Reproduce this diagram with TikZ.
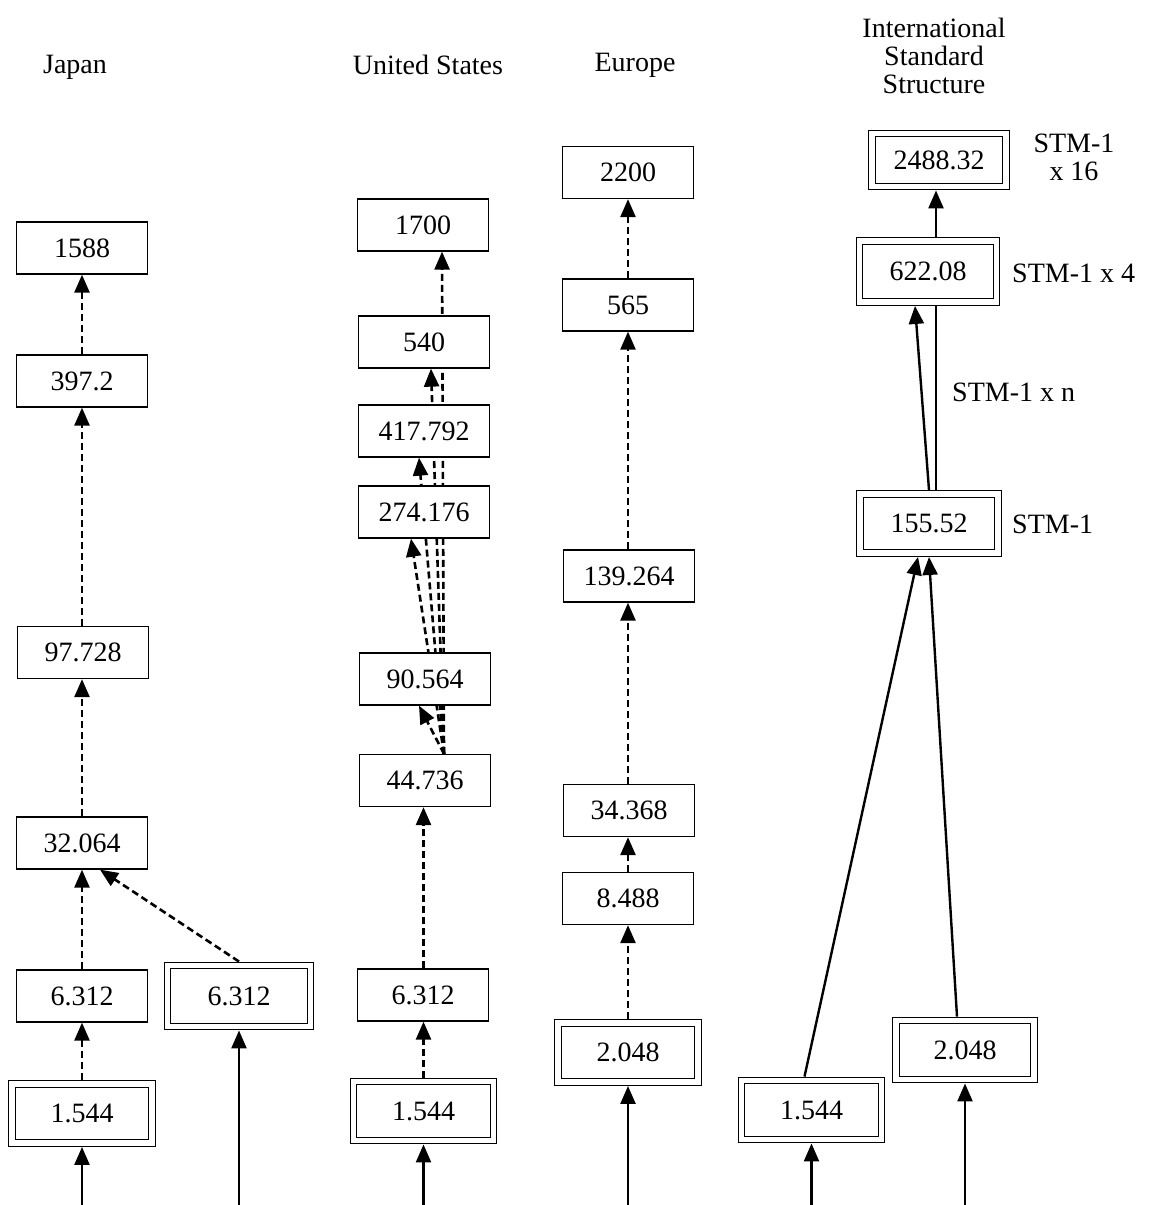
\documentclass[tikz,border=0pt]{standalone}
\usepackage{fontspec}
\setmainfont{Liberation Serif}
\usetikzlibrary{arrows.meta,calc,backgrounds}
\begin{document}
\begin{tikzpicture}[x=1pt,y=-1pt,
  font=\fontsize{28}{28}\selectfont,
  box/.style={draw, line width=1.3pt, fill=white, inner sep=0pt,
    minimum width=131pt, minimum height=52pt},
  dbox/.style={draw, double, double distance=5.5pt, line width=1.2pt,
    fill=white, inner sep=0pt, outer sep=3.95pt,
    minimum width=140pt, minimum height=59pt},
  link/.style={line width=2.4pt, -{Triangle[length=18pt,width=15pt]}},
  dlink/.style={link, line width=2.6pt, dash pattern=on 7pt off 4pt},
  lab/.style={anchor=west, inner sep=0pt, align=center}
]
\useasboundingbox (0,0) rectangle (1149,1205);

% column headings
\node (hJ) at (75,67) {Japan};
\node (hU) at (428,65) {United States};
\node (hE) at (635,65) {Europe};
\node[align=center, inner sep=0pt] (hI) at (934,56) {International\\Standard\\Structure};

% Japan
\node[box]  (j1588) at (82,248)    {1588};
\node[box]  (j397)  at (82,381)    {397.2};
\node[box]  (j97)   at (83,652.5)  {97.728};
\node[box]  (j32)   at (82,843)    {32.064};
\node[box]  (j6)    at (82,996)    {6.312};
\node[dbox, minimum width=143pt, minimum height=61pt] (jd6) at (239,996) {6.312};
\node[dbox] (j1544) at (82,1113.5) {1.544};

% United States
\node[box]  (u1700) at (423,225)   {1700};
\node[box]  (u540)  at (424,342)   {540};
\node[box]  (u417)  at (424,431)   {417.792};
\node[box]  (u274)  at (424,512)   {274.176};
\node[box]  (u90)   at (425,679)   {90.564};
\node[box]  (u44)   at (425,780.5) {44.736};
\node[box]  (u6)    at (423,995)   {6.312};
\node[dbox] (u1544) at (423.5,1111) {1.544};

% Europe
\node[box]  (e2200) at (628,172.5) {2200};
\node[box]  (e565)  at (628,305)   {565};
\node[box]  (e139)  at (629,576)   {139.264};
\node[box]  (e34)   at (629,810.5) {34.368};
\node[box]  (e8)    at (628,898.5) {8.488};
\node[dbox] (e2048) at (628,1052.5) {2.048};

% International standard structure
\node[dbox, minimum width=134pt, minimum height=53pt] (i2488) at (939,160) {2488.32};
\node[dbox, minimum width=137pt, minimum height=61pt] (i622) at (928,271.5) {622.08};
\node[dbox, minimum width=138pt] (i155) at (929,523.5) {155.52};
\node[dbox] (i1544) at (811.5,1110) {1.544};
\node[dbox, minimum width=138pt] (i2048) at (965,1050) {2.048};

\node[align=center, inner sep=0pt] (l16) at (1074,157) {STM-1\\x 16};
\node[lab] (l4) at (1012,273) {STM-1 x 4};
\node[lab] (ln) at (952,392) {STM-1 x n};
\node[lab] (l1) at (1012,524) {STM-1};

% input lines entering from below the lower edge
\coordinate (base) at (0,1205);
\coordinate (jin1) at (j1544.south |- base);
\coordinate (jin2) at (jd6.south |- base);
\coordinate (uin)  at (u1544.south |- base);
\coordinate (ein)  at (e2048.south |- base);
\coordinate (iin1) at (i1544.south |- base);
\coordinate (iin2) at (i2048.south |- base);

\begin{scope}[on background layer]
  % Japan
  \draw[link]  (jin1) -- (j1544.south);
  \draw[link]  (jin2) -- (jd6.south);
  \draw[dlink] (j1544.north) -- (j6.south);
  \draw[dlink] (j6.north) -- (j32.south);
  \draw[dlink] (jd6.north) -- ($(j32.south)+(18,0)$);
  \draw[dlink] (j32.north) -- (j97.south -| j32.north);
  \draw[dlink] (j97.north -| j32.north) -- (j397.south);
  \draw[dlink] (j397.north) -- (j1588.south);

  % United States
  \draw[link]  (uin) -- (u1544.south);
  \draw[dlink] (u1544.north) -- (u6.south -| u1544.north);
  \draw[dlink] (u6.north -| u1544.north) -- (u44.south -| u1544.north);
  \coordinate (ufan) at ($(u44.north)+(19,0)$);
  \draw[dlink] (ufan) -- ($(u90.south)+(-6,0)$);
  \draw[dlink] (ufan) -- ($(u274.south)+(-13,0)$);
  \draw[dlink] (ufan) -- ($(u417.south)+(-5,0)$);
  \draw[dlink] (ufan) -- ($(u540.south)+(7,0)$);
  \draw[dlink] (ufan) -- ($(u1700.south)+(19,0)$);

  % Europe
  \draw[link]  (ein) -- (e2048.south);
  \draw[dlink] (e2048.north) -- (e8.south);
  \draw[dlink] (e8.north) -- (e34.south -| e8.north);
  \draw[dlink] (e34.north -| e8.north) -- (e139.south -| e8.north);
  \draw[dlink] (e139.north -| e8.north) -- (e565.south);
  \draw[dlink] (e565.north) -- (e2200.south);

  % International
  \draw[link] (iin1) -- (i1544.south);
  \draw[link] (iin2) -- (i2048.south);
  \draw[link] ($(i1544.north)+(-7,0)$) -- ($(i155.south)+(-11,0)$);
  \draw[link] ($(i2048.north)+(-8,0)$) -- (i155.south);
  \draw[link] (i155.north) -- ($(i622.south)+(-13,0)$);
  \draw[link] ($(i155.north)+(7,0)$) -- ($(i2488.south)+(-3,0)$);
\end{scope}
\end{tikzpicture}
\end{document}
